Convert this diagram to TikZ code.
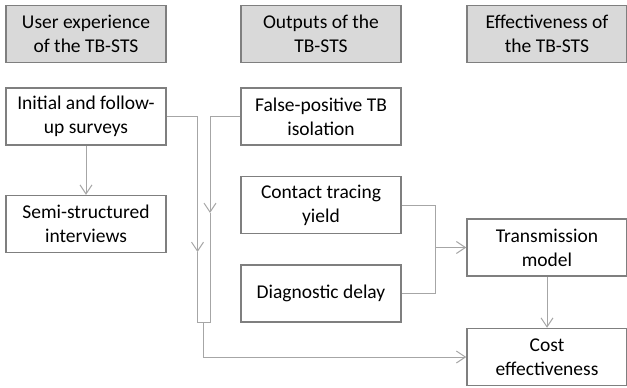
\documentclass[tikz,border=0pt]{standalone}
\usepackage{fontspec}
\setmainfont{Carlito}
\usetikzlibrary{arrows.meta, positioning}

\definecolor{boxgray}{HTML}{7F7F7F}
\definecolor{linegray}{HTML}{A6A6A6}
\definecolor{headfill}{HTML}{D9D9D9}

\begin{document}
\begin{tikzpicture}[x=1pt, y=1pt, >={Straight Barb[length=9pt,width=12pt]}, semithick]
        \tikzstyle{state}=[fill=white,draw=boxgray,line width=1.5pt,text=black,align=center,
                minimum width=160pt,minimum height=57pt,inner sep=2pt,
                font=\fontsize{19.5}{24}\selectfont]
        \tikzstyle{head}=[state,fill=headfill]
        \tikzstyle{link}=[draw=linegray,line width=1pt]

        \useasboundingbox (0,0) rectangle (627,-388);

        \node[head]     (A) at (86,-34)         {User experience\\of the TB-STS};
        \node[head]     (B) [right of=A, node distance=235pt] {Outputs of the\\TB-STS};
        \node[head]     (C) [right of=B, node distance=226pt] {Effectiveness of\\the TB-STS};

        \node[state]    (D) [below of=A, node distance=82.5pt] {Initial and follow-\\up surveys};
        \node[state]    (E) [below of=D, node distance=107.5pt] {Semi-structured\\interviews};
        \node[state]    (F) [below of=B, node distance=82.5pt] {False-positive TB\\isolation};
        \node[state]    (G) [below of=F, node distance=88.5pt] {Contact tracing\\yield};
        \node[state]    (H) [below of=G, node distance=88.5pt] {Diagnostic delay};
        \node[state]    (I) [below of=C, node distance=213.5pt] {Transmission\\model};
        \node[state]    (J) [below of=I, node distance=109.5pt] {Cost\\effectiveness};

        % the open channel between the first two columns
        \coordinate (La) at (197.5,-252);
        \coordinate (Ra) at (210,-213);
        \coordinate (Lb) at (197.5,-322);
        \coordinate (Rb) at (210,-322);
        \coordinate (Mb) at (203.75,-322);
        \coordinate (K)  at (435,-247.5);

        \path[link] (D) edge [->] (E)
                  (I) edge [->] (J);

        \draw[link, ->] (D.east) -| (La);
        \draw[link] (La) -- (Lb) -- (Rb) -- (Ra);
        \draw[link, ->] (F.west) -| (Ra);
        \draw[link, ->] (Mb) |- (J.west);

        % both outputs feed the model
        \draw[link] (G.east) -| (K);
        \draw[link] (H.east) -| (K);
        \draw[link, ->] (K) -- (I.west);
\end{tikzpicture}
\end{document}
